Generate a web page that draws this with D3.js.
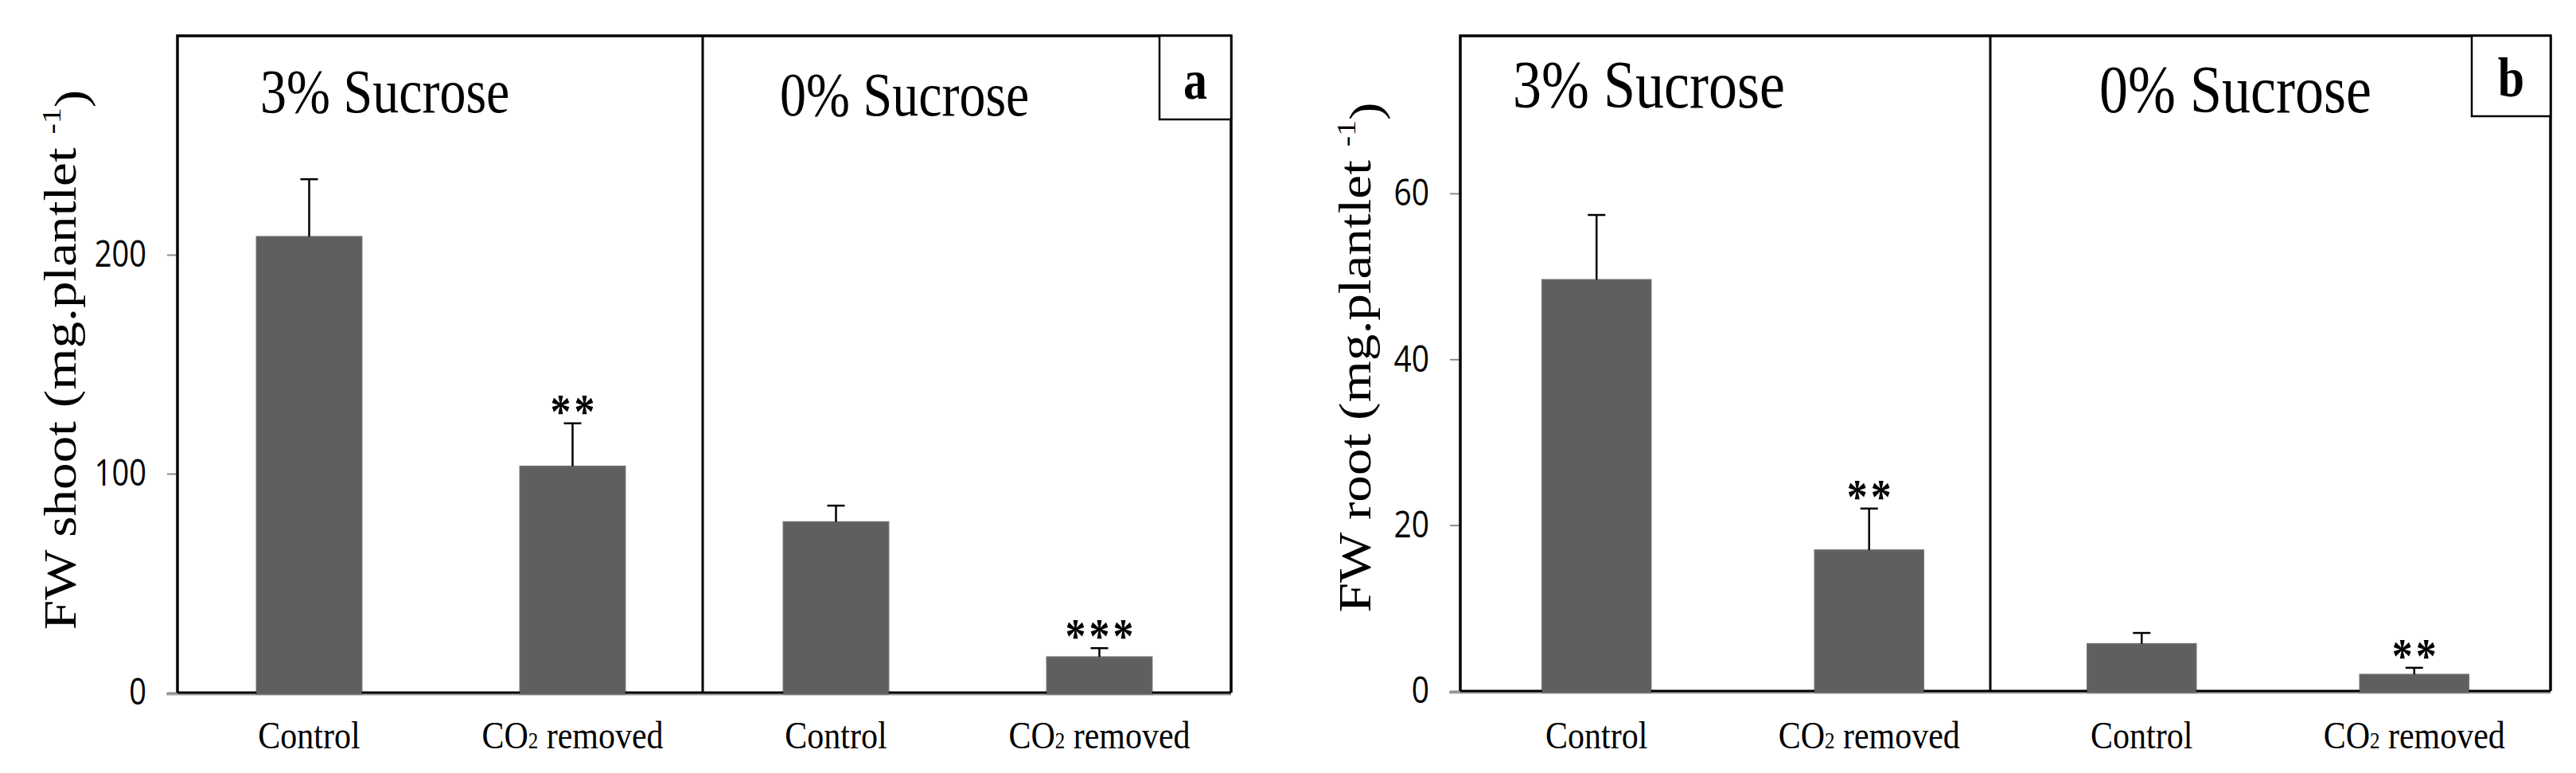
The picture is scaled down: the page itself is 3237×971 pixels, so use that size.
<!DOCTYPE html>
<html>
<head>
<meta charset="utf-8">
<script src="https://cdn.jsdelivr.net/npm/d3@7"></script>
<style>
  body { margin: 0; background: #fff; }
  text { font-family: "Liberation Serif", "Times New Roman", serif; fill: #000; }
</style>
</head>
<body>
<svg id="chart" width="3237" height="971"></svg>
<script>
// values
const treatments = ["Control", "CO2 removed", "Control", "CO2 removed"];
const sucrose = ["3% Sucrose", "0% Sucrose"];

const shootMean = [208.3, 103.4, 78, 16.3];
const shootErr = [26.2, 19.6, 7.4, 4];
const shootStars = ["", "**", "", "***"];
const shootTicks = [0, 100, 200];

const rootMean = [49.6, 17.0, 5.7, 2.0];
const rootErr = [7.8, 5.0, 1.3, 0.8];
const rootStars = ["", "**", "", "**"];
const rootTicks = [0, 20, 40, 60];

const svg = d3.select('#chart');
const SY = 1.18; // source picture is stretched vertically, glyphs too

function place(sel, x, y, rot) {
  return sel.attr('transform', `translate(${x},${y}) scale(1,${SY})` + (rot ? ' rotate(-90)' : ''));
}

function drawPanel(cfg) {
  let g = svg.append('g');
  let x = d3.scaleBand().domain(d3.range(treatments.length))
    .range([cfg.left, cfg.right]).paddingInner(0.6).paddingOuter(0.3);
  let y = d3.scaleLinear().domain([0, cfg.yMax]).range([cfg.bottom, cfg.top]);
  let cx = i => x(i) + x.bandwidth() / 2;

  // grey category axis line under the frame
  g.append('line')
    .attr('x1', cfg.left - 14).attr('x2', cfg.right)
    .attr('y1', cfg.bottom + 2).attr('y2', cfg.bottom + 2)
    .attr('stroke', '#a6a6a6').attr('stroke-width', 3);

  // y axis ticks
  let ax = g.append('g').attr('transform', `translate(${cfg.left},0)`)
    .call(d3.axisLeft(y).tickValues(cfg.ticks).tickSize(13).tickPadding(26));
  ax.select('.domain').remove();
  ax.selectAll('.tick line').attr('stroke', '#8a8a8a').attr('stroke-width', 2);
  ax.selectAll('.tick text')
    .attr('x', null)
    .attr('transform', `translate(-39,0) scale(1,${SY})`)
    .style('font-family', '"Open Sans", sans-serif')
    .style('font-size', cfg.tickFont + 'px')
    .attr('fill', '#111');

  // bars
  g.selectAll('.bar').data(cfg.mean).enter().append('rect')
    .attr('class', 'bar')
    .attr('x', (d, i) => x(i))
    .attr('width', x.bandwidth())
    .attr('y', d => y(d))
    .attr('height', d => y(0) - y(d) + 2)
    .attr('fill', '#5f5f5f')
    .attr('stroke', '#6e6e6e').attr('stroke-width', 1.5);

  // error bars, upper half only
  let eb = g.selectAll('.err').data(cfg.mean).enter().append('g').attr('class', 'err')
    .attr('stroke', '#000').attr('stroke-width', 2.5);
  eb.append('line')
    .attr('x1', (d, i) => cx(i)).attr('x2', (d, i) => cx(i))
    .attr('y1', d => y(d)).attr('y2', (d, i) => y(d + cfg.err[i]));
  eb.append('line')
    .attr('x1', (d, i) => cx(i) - 11).attr('x2', (d, i) => cx(i) + 11)
    .attr('y1', (d, i) => y(d + cfg.err[i])).attr('y2', (d, i) => y(d + cfg.err[i]));

  // significance stars
  g.selectAll('.star').data(cfg.stars).enter().append('text')
    .attr('class', 'star')
    .each(function(d, i) {
      place(d3.select(this), cx(i) + 2, y(cfg.mean[i] + cfg.err[i]) + 5);
    })
    .attr('text-anchor', 'middle')
    .style('font-size', '52px').style('font-weight', 'bold')
    .style('letter-spacing', '4px')
    .text(d => d);

  // frame and divider between the two sucrose groups
  g.append('path')
    .attr('d', `M${cfg.left},${cfg.bottom}V${cfg.top}H${cfg.right}V${cfg.bottom}`)
    .attr('fill', 'none').attr('stroke', '#000').attr('stroke-width', 3.5);
  g.selectAll('.base').data([[cfg.left, x(0)], [x(0) + x.bandwidth(), x(1)], [x(1) + x.bandwidth(), x(2)],
      [x(2) + x.bandwidth(), x(3)], [x(3) + x.bandwidth(), cfg.right]]).enter().append('line')
    .attr('class', 'base')
    .attr('x1', d => d[0]).attr('x2', d => d[1])
    .attr('y1', cfg.bottom).attr('y2', cfg.bottom)
    .attr('stroke', '#000').attr('stroke-width', 3);
  let mid = (x(1) + x.bandwidth() + x(2)) / 2 + cfg.divShift;
  g.append('line')
    .attr('x1', mid).attr('x2', mid).attr('y1', cfg.top).attr('y2', cfg.bottom)
    .attr('stroke', '#000').attr('stroke-width', 3);

  // group titles
  let starts = [cfg.left, mid];
  sucrose.forEach((s, k) => {
    place(g.append('text'), starts[k] + cfg.titleDx[k], cfg.titleY[k])
      .style('font-size', cfg.titleFont + 'px').text(s);
  });

  // panel letter
  g.append('rect')
    .attr('x', cfg.right - cfg.boxW).attr('y', cfg.top)
    .attr('width', cfg.boxW).attr('height', cfg.boxH)
    .attr('fill', '#fff').attr('stroke', '#000').attr('stroke-width', 2.5);
  place(g.append('text'), cfg.right - cfg.boxW / 2, cfg.letterY)
    .attr('text-anchor', 'middle')
    .style('font-size', '60px').style('font-weight', 'bold')
    .text(cfg.letter);

  // category labels
  g.selectAll('.cat').data(treatments).enter().append('text')
    .attr('class', 'cat')
    .each(function(d, i) {
      let t = place(d3.select(this), cx(i), 940).attr('text-anchor', 'middle')
        .style('font-size', '42px');
      if (d.startsWith('CO2')) {
        t.append('tspan').text('CO');
        t.append('tspan').style('font-size', '25px').text('2');
        t.append('tspan').text(' removed');
      } else {
        t.text(d);
      }
    });

  // y title
  let yt = place(g.append('text'), cfg.labelX, cfg.labelY, true)
    .attr('text-anchor', 'middle').style('font-size', '57px');
  yt.append('tspan').text(cfg.label + ' (mg.plantlet ');
  yt.append('tspan').attr('dy', '-0.55em').style('font-size', '34px').text('-1');
  yt.append('tspan').attr('dy', '0.55em').text(')');
}

drawPanel({
  left: 223, right: 1547, top: 45, bottom: 870, yMax: 300,
  mean: shootMean, err: shootErr, stars: shootStars, ticks: shootTicks,
  tickFont: 38, divShift: -2,
  titleDx: [104, 97], titleY: [141, 145], titleFont: 66,
  letter: 'a', boxW: 90, boxH: 105, letterY: 124,
  label: 'FW shoot', labelX: 95, labelY: 452
});

drawPanel({
  left: 1835, right: 3205, top: 45, bottom: 868, yMax: 79,
  mean: rootMean, err: rootErr, stars: rootStars, ticks: rootTicks,
  tickFont: 39, divShift: -19,
  titleDx: [66, 137], titleY: [135, 141], titleFont: 72,
  letter: 'b', boxW: 99, boxH: 101, letterY: 121,
  label: 'FW root', labelX: 1722, labelY: 449
});
</script>
</body>
</html>
